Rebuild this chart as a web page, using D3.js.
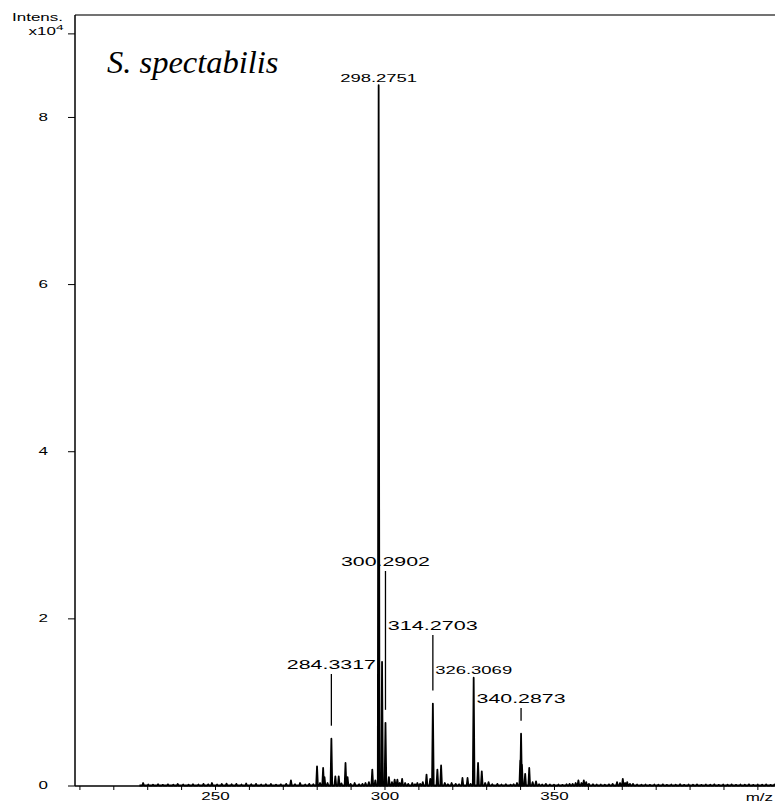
<!DOCTYPE html>
<html>
<head>
<meta charset="utf-8">
<script src="https://cdn.jsdelivr.net/npm/d3@7"></script>
<style>
  body { margin: 0; background: #fff; }
  svg { display: block; font-family: "Liberation Sans", Arial, sans-serif; }
</style>
</head>
<body>
<div id="chart"></div>
<script>
// peak list (m/z, intensity in x10^4)
const peakMz = [
  228.8, 230.3, 231.7, 233.2, 234.6, 236.1, 237.7, 239.0, 240.6, 242.2, 243.5, 245.1, 246.6, 248.0, 249.1,
  250.6, 252.0, 253.4, 254.9, 256.3, 257.8, 259.2, 260.7, 262.1, 263.6, 265.0, 266.5, 268.0, 269.4, 271.0,
  272.4, 273.6, 275.1, 276.6, 277.8, 279.0, 280.1, 281.0, 281.9, 282.3, 283.2, 284.3317, 285.5, 286.5, 287.3,
  288.5, 289.1, 290.0, 291.2, 292.5, 293.5, 294.4, 295.4, 296.4, 297.3, 298.2751, 299.28, 300.2902, 301.3, 302.2,
  303.0, 303.8, 304.5, 305.2, 306.1, 307.0, 308.2, 309.0, 309.7, 310.5, 311.3, 312.4, 313.5, 314.2703, 315.6,
  316.7, 317.8, 318.7, 319.8, 321.0, 322.0, 323.0, 324.5, 325.4, 326.3069, 327.6, 328.7, 329.7, 330.7, 331.8,
  333.3, 334.5, 335.8, 337.2, 338.1, 339.1, 340.05, 340.2873, 340.55, 341.5, 342.7, 343.7, 344.7, 345.6, 346.5,
  347.6, 348.8, 350.0, 351.3, 352.5, 353.7, 354.6, 355.5, 356.4, 357.2, 358.1, 358.8, 359.5, 360.3, 361.5,
  362.6, 363.8, 365.0, 366.2, 367.3, 368.6, 369.5, 370.3, 371.0, 371.6, 372.4, 373.3, 374.5, 375.8, 377.0,
  378.3, 379.6, 380.8, 382.1, 383.3, 384.6, 385.9, 387.2, 388.4, 389.7, 391.0, 392.2, 393.5, 394.8, 396.1,
  397.3, 398.6, 399.9, 401.2, 402.4, 403.7, 405.0, 406.3, 407.5, 408.8, 410.1, 411.4, 412.6, 413.9, 415.0
];
const peakInt = [
  0.030, 0.012, 0.010, 0.015, 0.008, 0.014, 0.010, 0.018, 0.012, 0.010, 0.016, 0.012, 0.020, 0.014, 0.030,
  0.012, 0.018, 0.022, 0.015, 0.020, 0.012, 0.024, 0.016, 0.020, 0.012, 0.015, 0.018, 0.010, 0.014, 0.020,
  0.060, 0.015, 0.030, 0.012, 0.020, 0.015, 0.230, 0.030, 0.210, 0.100, 0.030, 0.560, 0.110, 0.110, 0.025,
  0.270, 0.100, 0.020, 0.030, 0.015, 0.020, 0.030, 0.040, 0.190, 0.060, 8.380, 1.480, 0.750, 0.100, 0.040,
  0.070, 0.070, 0.030, 0.080, 0.030, 0.020, 0.030, 0.015, 0.030, 0.020, 0.040, 0.130, 0.080, 0.980, 0.190,
  0.240, 0.030, 0.015, 0.030, 0.020, 0.015, 0.090, 0.090, 0.020, 1.290, 0.270, 0.170, 0.030, 0.040, 0.015,
  0.020, 0.012, 0.015, 0.010, 0.015, 0.030, 0.300, 0.620, 0.250, 0.140, 0.210, 0.040, 0.050, 0.015, 0.012,
  0.020, 0.012, 0.010, 0.012, 0.008, 0.015, 0.020, 0.020, 0.030, 0.060, 0.030, 0.060, 0.040, 0.020, 0.015,
  0.012, 0.012, 0.010, 0.014, 0.020, 0.040, 0.030, 0.080, 0.030, 0.040, 0.020, 0.020, 0.012, 0.010, 0.012,
  0.008, 0.012, 0.010, 0.014, 0.008, 0.012, 0.010, 0.015, 0.008, 0.012, 0.010, 0.013, 0.008, 0.012, 0.010,
  0.014, 0.008, 0.012, 0.010, 0.013, 0.008, 0.012, 0.010, 0.014, 0.008, 0.012, 0.010, 0.013, 0.008, 0.012
];

// annotated peaks
const labelMz = [298.2751, 300.2902, 284.3317, 314.2703, 326.3069, 340.2873];
const labelInt = [8.38, 0.75, 0.56, 0.98, 1.29, 0.62];

const yTicks = [0, 2, 4, 6, 8];
const xMajor = [250, 300, 350];

// label layout: text centre y (px), font size, stretched width
const labelY = [78, 561, 664, 625, 670, 698];
const labelSize = [10, 13.5, 13.5, 13.5, 11.5, 13.5];
const labelWidth = [77, 89, 89, 90, 77, 89];

const W = 775, H = 805;
const svg = d3.select("#chart").append("svg")
  .attr("width", W)
  .attr("height", H);

const x = d3.scaleLinear().domain([208.7, 415.2]).range([75, 775]);
const y = d3.scaleLinear().domain([0, 9.22]).range([785.5, 15]);

const stretch = 1.7;

// spectrum as narrow profile peaks
const pts = [[x.domain()[0] + 19, 0]];
peakMz.forEach((m, i) => {
  pts.push([m - 0.25, 0], [m, peakInt[i]], [m + 0.25, 0]);
});
pts.push([x.domain()[1], 0]);

const line = d3.line().x(d => x(d[0])).y(d => y(d[1]));
svg.append("path")
  .attr("d", line(pts))
  .attr("fill", "none")
  .attr("stroke", "#000")
  .attr("stroke-width", 1.8)
  .attr("stroke-linejoin", "round");

// frame top
svg.append("line")
  .attr("x1", 75).attr("x2", 775)
  .attr("y1", 15).attr("y2", 15)
  .attr("stroke", "#444").attr("stroke-width", 1.5);

// y axis
const yAxis = svg.append("g")
  .attr("transform", "translate(75,0)")
  .call(d3.axisLeft(y).tickValues(yTicks.concat([9])).tickSize(7)
    .tickFormat(d => yTicks.includes(d) ? d : ""));
yAxis.select(".domain").attr("stroke-width", 1.5).attr("d", "M0,15V786");
yAxis.selectAll("text")
  .attr("font-size", 10)
  .attr("font-family", "Liberation Sans, Arial, sans-serif")
  .attr("x", -27 / stretch)
  .attr("transform", `scale(${stretch},1)`);

// x axis
const xAxis = svg.append("g")
  .attr("transform", "translate(0,786)")
  .call(d3.axisBottom(x).tickValues(d3.range(210, 416, 10)).tickSize(4)
    .tickFormat(d => xMajor.includes(d) ? d : ""));
xAxis.select(".domain").attr("stroke-width", 1.5).attr("d", "M75,0H775");
xAxis.selectAll("text")
  .attr("font-size", 10)
  .attr("font-family", "Liberation Sans, Arial, sans-serif")
  .attr("transform", `scale(${stretch},1)`);

// axis captions
const cap = (txt, tx, ty, anchor) => svg.append("text")
  .attr("transform", `translate(${tx},${ty}) scale(${stretch},1)`)
  .attr("text-anchor", anchor)
  .attr("font-size", 10)
  .text(txt);
cap("Intens.", 63, 21, "end");
cap("x10", 56, 35, "end");
svg.append("text")
  .attr("transform", `translate(56,30) scale(${stretch},1)`)
  .attr("font-size", 8)
  .text("4");
cap("m/z", 773, 801, "end");

// title
svg.append("text")
  .attr("x", 107).attr("y", 73)
  .attr("font-family", "Liberation Serif, Times New Roman, serif")
  .attr("font-style", "italic")
  .attr("font-size", 32.5)
  .text("S. spectabilis");

// peak labels with leader lines
labelMz.forEach((m, i) => {
  const px = x(m), top = y(labelInt[i]), ty = labelY[i];
  svg.append("text")
    .attr("x", px).attr("y", ty)
    .attr("dy", "0.36em")
    .attr("text-anchor", "middle")
    .attr("font-size", labelSize[i])
    .attr("textLength", labelWidth[i])
    .attr("lengthAdjust", "spacingAndGlyphs")
    .text(m.toFixed(4));
  if (top - ty > 30) {
    svg.append("line")
      .attr("x1", px).attr("x2", px)
      .attr("y1", ty + 10).attr("y2", top - 13)
      .attr("stroke", "#000").attr("stroke-width", 1.3);
  }
});
</script>
</body>
</html>
